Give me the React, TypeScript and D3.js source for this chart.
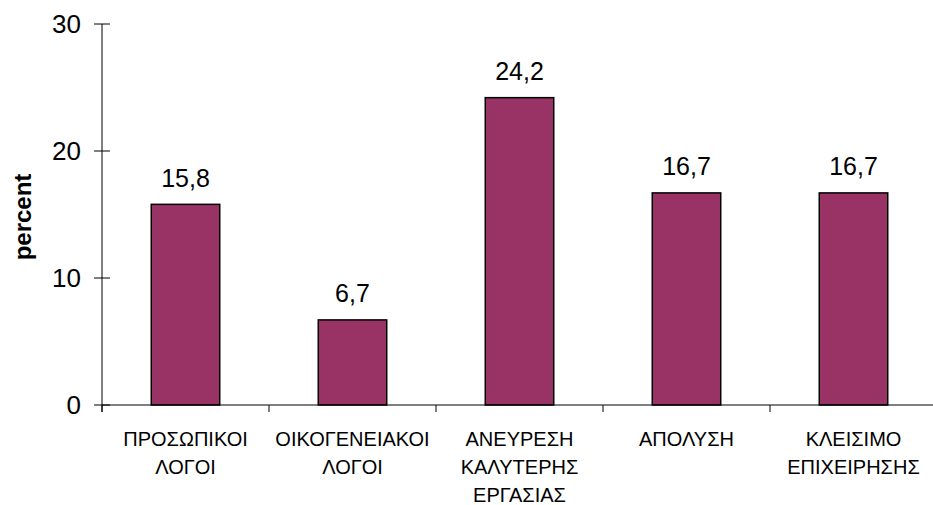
import React from "react";
import * as d3 from "d3";

const categories: string[][] = [
  ["ΠΡΟΣΩΠΙΚΟΙ", "ΛΟΓΟΙ"],
  ["ΟΙΚΟΓΕΝΕΙΑΚΟΙ", "ΛΟΓΟΙ"],
  ["ΑΝΕΥΡΕΣΗ", "ΚΑΛΥΤΕΡΗΣ", "ΕΡΓΑΣΙΑΣ"],
  ["ΑΠΟΛΥΣΗ"],
  ["ΚΛΕΙΣΙΜΟ", "ΕΠΙΧΕΙΡΗΣΗΣ"],
];
const values: number[] = [15.8, 6.7, 24.2, 16.7, 16.7];
const yTicks: number[] = [0, 10, 20, 30];
const yLabel = "percent";

export default function App() {
  const W = 933, H = 505;
  const x0 = 102, x1 = 937, yTop = 24, yBot = 405;
  const x = d3.scaleBand<number>().domain(d3.range(values.length)).range([x0, x1]).paddingInner(0.59).paddingOuter(0.295);
  const y = d3.scaleLinear().domain([0, 30]).range([yBot, yTop]);
  const boundaries = d3.range(values.length + 1).map((i) => x0 + (i * (x1 - x0)) / values.length);
  const fmt = (v: number) => v.toFixed(1).replace(".", ",");
  const font = "Liberation Sans, Arial, sans-serif";
  return (
    <svg width={W} height={H} style={{ position: "absolute", left: 0, top: 0, background: "#fff" }} fontFamily={font}>
      {values.map((v, i) => (
        <rect key={i} x={x(i)} y={y(v)} width={x.bandwidth()} height={y(0) - y(v)} fill="#993366" stroke="#000" strokeWidth={1.5} />
      ))}
      {values.map((v, i) => (
        <text key={i} x={(x(i) as number) + x.bandwidth() / 2} y={y(v) - 17.5} textAnchor="middle" fontSize={25} fill="#000">{fmt(v)}</text>
      ))}
      <line x1={x0} x2={x0} y1={y(30)} y2={yBot + 7} stroke="#000" strokeWidth={1} />
      {yTicks.map((t) => (
        <g key={t}>
          <line x1={x0 - 8} x2={x0 + 8} y1={y(t)} y2={y(t)} stroke="#000" />
          <text x={x0 - 21} y={y(t)} dy="0.36em" textAnchor="end" fontSize={26} fill="#000">{t}</text>
        </g>
      ))}
      <line x1={x0} x2={x1} y1={yBot} y2={yBot} stroke="#000" />
      {boundaries.map((b, i) => (
        <line key={i} x1={b} x2={b} y1={yBot} y2={yBot + 7} stroke="#000" />
      ))}
      {categories.map((lines, i) => (
        <text key={i} textAnchor="middle" fontSize={20} fill="#000">
          {lines.map((l, j) => (
            <tspan key={j} x={(x(i) as number) + x.bandwidth() / 2} y={446 + j * 28}>{l}</tspan>
          ))}
        </text>
      ))}
      <text transform={`translate(31,217) rotate(-90)`} textAnchor="middle" fontSize={24} fontWeight="bold" fill="#000">{yLabel}</text>
    </svg>
  );
}
